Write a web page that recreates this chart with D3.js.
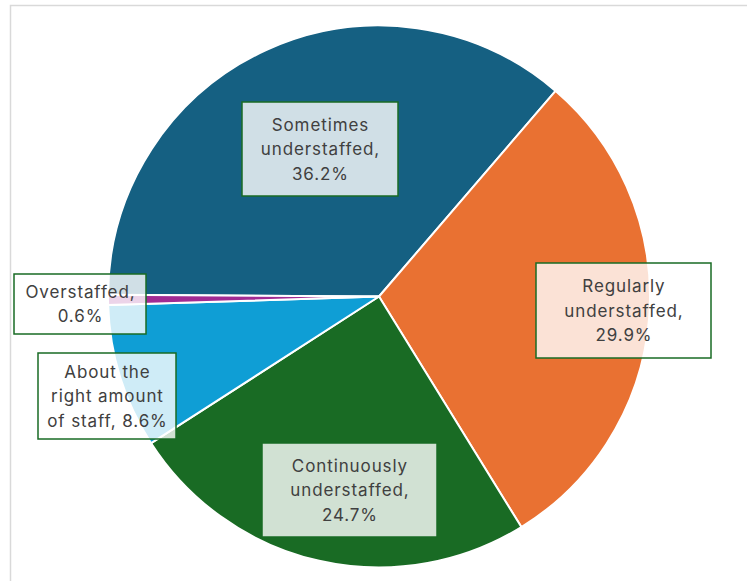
<!DOCTYPE html>
<html>
<head>
<meta charset="utf-8">
<script src="https://cdn.jsdelivr.net/npm/d3@7"></script>
<style>
  html, body { margin: 0; padding: 0; background: #ffffff; }
  svg { display: block; }
</style>
</head>
<body>
<svg id="chart" width="747" height="581"></svg>
<script>
// Staffing levels reported, share of responses
const categories = [
  "Sometimes understaffed",
  "Regularly understaffed",
  "Continuously understaffed",
  "About the right amount of staff",
  "Overstaffed"
];
const shares = [36.2, 29.9, 24.7, 8.6, 0.6];
const colors = ["#156082", "#E97132", "#196B24", "#0F9ED5", "#A02B93"];
// Label text broken into lines, as shown in each callout box
const labelLines = [
  ["Sometimes", "understaffed,", "36.2%"],
  ["Regularly", "understaffed,", "29.9%"],
  ["Continuously", "understaffed,", "24.7%"],
  ["About the", "right amount", "of staff, 8.6%"],
  ["Overstaffed,", "0.6%"]
];

const svg = d3.select("#chart");
const W = 747, H = 581;

// chart area frame
svg.append("rect")
  .attr("x", 10.5).attr("y", 5.5)
  .attr("width", W + 20).attr("height", H + 20)
  .attr("fill", "#ffffff")
  .attr("stroke", "#d9d9d9")
  .attr("stroke-width", 1.5);

const cx = 379, cy = 296.5, radius = 271;

const pie = d3.pie()
  .value(d => d)
  .sort(null)
  .startAngle(-Math.PI / 2 + 0.006)
  .endAngle(1.5 * Math.PI + 0.006);

const arcs = pie(shares);
const arc = d3.arc().innerRadius(0).outerRadius(radius);

const g = svg.append("g").attr("transform", `translate(${cx},${cy})`);

g.selectAll("path.slice")
  .data(arcs)
  .join("path")
  .attr("class", "slice")
  .attr("d", arc)
  .attr("fill", (d, i) => colors[i])
  .attr("stroke", "#ffffff")
  .attr("stroke-width", 2)
  .attr("stroke-linejoin", "round");

// Callout boxes: placement of each box (left, top, width, height) in page space
const boxes = [
  [242, 102, 156, 94],
  [536, 263, 175, 95],
  [262, 443, 175, 94],
  [38, 353, 138, 86],
  [14, 274, 132, 60]
];

const labels = svg.append("g");
arcs.forEach((a, i) => {
  const [bx, by, bw, bh] = boxes[i];
  const lg = labels.append("g");
  lg.append("rect")
    .attr("x", bx).attr("y", by)
    .attr("width", bw).attr("height", bh)
    .attr("fill", "#ffffff")
    .attr("fill-opacity", 0.8)
    .attr("stroke", "#196B24")
    .attr("stroke-width", 1.5);
  const lines = labelLines[i];
  const lh = 24.5;
  const midY = by + bh / 2;
  const t = lg.append("text")
    .attr("text-anchor", "middle")
    .attr("font-family", "Inter, 'Open Sans', sans-serif")
    .attr("font-size", 17)
    .attr("letter-spacing", "0.9px")
    .attr("fill", "#404040");
  lines.forEach((ln, k) => {
    t.append("tspan")
      .attr("x", bx + bw / 2 + 0.45)
      .attr("y", midY + (k - (lines.length - 1) / 2) * lh)
      .attr("dy", "0.36em")
      .text(ln);
  });
});
</script>
</body>
</html>
